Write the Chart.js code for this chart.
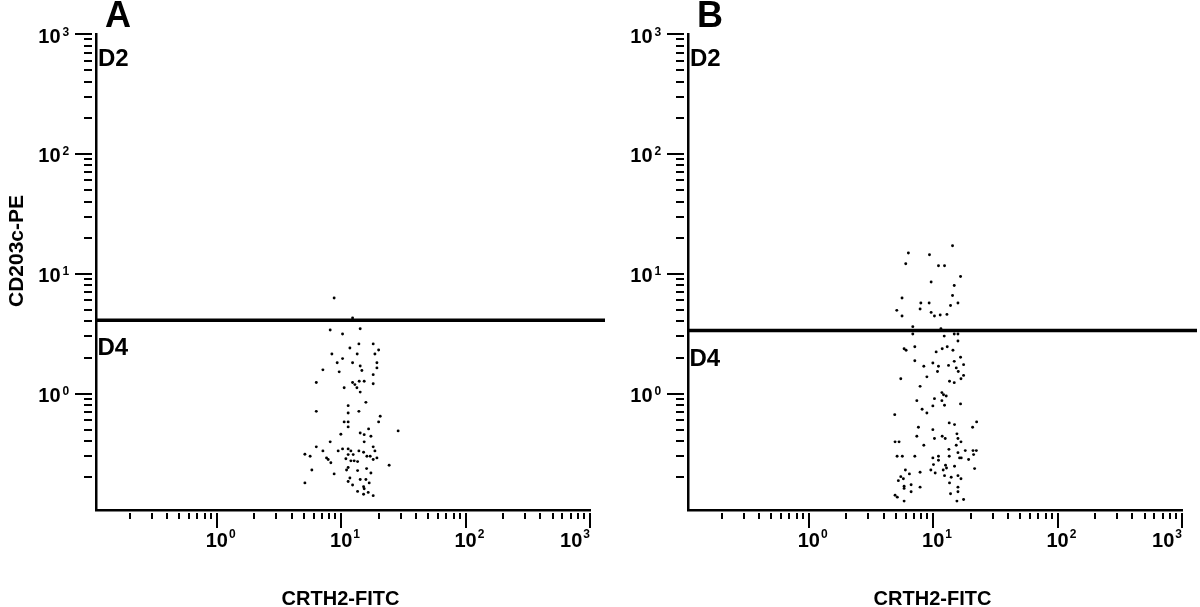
<!DOCTYPE html>
<html><head><meta charset="utf-8">
<script src="https://cdn.jsdelivr.net/npm/chart.js@4"></script>
<style>
html,body{margin:0;padding:0;background:#fff;}
#wrap{position:relative;width:1200px;height:607px;overflow:hidden;background:#fff;}
.panel{position:absolute;top:0;height:607px;}
canvas{display:block;}
</style></head><body>
<div id="wrap">
<div class="panel" style="left:0;width:610px"><canvas id="cA" width="610" height="607"></canvas></div>
<div class="panel" style="left:600px;width:600px"><canvas id="cB" width="600" height="607"></canvas></div>
</div>
<script>
// ---- text / axis data ----
const panelLetters = ['A', 'B'];
const xAxisTitle = 'CRTH2-FITC';
const yAxisTitle = 'CD203c-PE';
const gateLabels = ['D2', 'D4'];
const majorTickValues = [1, 10, 100, 1000];
const majorTickBase = '10';
const majorTickExponents = ['0', '1', '2', '3'];
const minorMultiples = [2, 3, 4, 5, 6, 7, 8, 9];
const decadeBases = [0.1, 1, 10, 100];
const axisMin = 0.107;
const axisMax = 1000;
// gate (horizontal quadrant line) level in each panel, and its right end
const gateLevels = [4.1, 3.36];
const gateXEnd = 1320;

// ---- events: [CRTH2-FITC, CD203c-PE] ----
const panelA_points = [
 [8.78,6.27],[12.35,4.27],[8.16,3.40],[14.22,3.48],[10.26,3.14],[13.88,2.60],[18.09,2.60],[11.75,2.40],[20.0,2.31],[8.42,2.14],
 [13.45,2.14],[18.67,2.14],[10.26,1.96],[9.29,1.81],[12.35,1.81],[19.38,1.81],[14.22,1.70],[7.13,1.58],[9.64,1.52],[14.67,1.56],
 [19.38,1.64],[18.09,1.44],[6.31,1.24],[12.35,1.24],[12.89,1.19],[13.96,1.27],[15.31,1.27],[18.09,1.21],[10.57,1.12],[13.38,1.12],
 [14.22,1.03],[15.80,0.846],[11.38,0.794],[6.31,0.712],[11.38,0.690],[13.88,0.712],[20.6,0.647],[10.57,0.581],[11.38,0.581],[20.0,0.581],
 [11.38,0.528],[16.61,0.508],[28.7,0.489],[9.94,0.458],[14.22,0.470],[15.31,0.455],[17.34,0.441],[8.16,0.396],[15.31,0.396],[6.31,0.360],
 [18.09,0.360],[7.13,0.333],[9.46,0.333],[10.26,0.346],[11.38,0.346],[11.97,0.333],[13.88,0.333],[15.14,0.324],[18.67,0.333],[5.11,0.312],
 [5.63,0.300],[11.38,0.310],[12.49,0.310],[16.10,0.300],[17.11,0.300],[7.63,0.291],[7.86,0.282],[10.91,0.286],[11.97,0.275],[12.72,0.275],
 [13.55,0.271],[18.09,0.282],[19.38,0.291],[8.26,0.265],[24.3,0.253],[11.38,0.242],[16.01,0.237],[11.05,0.231],[13.55,0.228],[5.81,0.231],
 [8.78,0.214],[17.34,0.218],[11.75,0.198],[14.22,0.192],[15.80,0.192],[11.38,0.185],[5.11,0.180],[16.80,0.180],[12.35,0.173],[15.14,0.167],
 [15.31,0.161],[13.55,0.153],[16.49,0.150],[15.14,0.145],[18.09,0.141]
];
const panelB_points = [
 [14.31,17.12],[6.32,14.88],[9.34,14.40],[6.02,12.12],[11.03,11.66],[12.34,11.66],[16.60,9.50],[9.63,8.53],[14.77,7.99],[14.31,6.59],
 [5.62,6.27],[7.96,5.70],[9.28,5.70],[15.82,5.70],[13.79,5.44],[5.10,4.95],[7.85,5.08],[9.63,4.76],[11.39,4.53],[10.24,4.44],
 [12.90,4.58],[5.62,4.44],[6.86,3.62],[11.54,3.48],[6.86,3.14],[14.77,3.14],[15.82,3.14],[12.27,3.02],[15.82,2.75],[5.84,2.37],
 [6.06,2.30],[7.12,2.46],[11.82,2.37],[12.97,2.46],[14.42,2.30],[10.57,2.23],[7.12,1.88],[9.94,1.80],[14.77,1.86],[16.60,2.01],
 [8.41,1.69],[11.03,1.69],[13.29,1.72],[15.33,1.64],[17.56,1.745],[10.83,1.53],[15.91,1.53],[8.90,1.38],[17.56,1.42],[5.49,1.33],
 [16.73,1.33],[13.53,1.27],[14.77,1.235],[7.85,1.15],[11.75,1.02],[12.11,0.98],[12.73,0.957],[10.24,0.908],[11.75,0.874],[7.39,0.874],
 [16.60,0.821],[12.34,0.799],[9.94,0.790],[8.15,0.740],[8.90,0.690],[4.91,0.668],[13.46,0.570],[14.85,0.552],[22.35,0.581],[7.61,0.524],
 [9.94,0.501],[20.75,0.524],[15.52,0.462],[7.39,0.441],[11.82,0.441],[10.24,0.422],[12.50,0.422],[15.82,0.422],[16.73,0.396],[4.94,0.396],
 [5.32,0.396],[8.41,0.371],[15.33,0.371],[13.38,0.343],[18.11,0.335],[20.9,0.335],[22.23,0.335],[15.82,0.322],[5.13,0.300],[5.65,0.300],
 [7.12,0.300],[9.94,0.291],[11.03,0.300],[11.03,0.278],[13.46,0.300],[16.30,0.291],[16.82,0.291],[19.27,0.282],[21.13,0.310],[10.06,0.256],
 [12.57,0.253],[14.85,0.248],[5.98,0.231],[9.58,0.231],[12.04,0.231],[12.80,0.240],[10.38,0.218],[21.53,0.237],[7.85,0.221],[6.44,0.214],
 [12.34,0.207],[13.96,0.201],[15.82,0.207],[5.49,0.203],[5.76,0.195],[5.25,0.188],[16.73,0.195],[13.53,0.180],[6.65,0.174],[5.84,0.169],
 [7.85,0.166],[15.82,0.166],[5.84,0.162],[15.82,0.152],[6.65,0.152],[13.79,0.146],[4.94,0.142],[5.15,0.137],[5.84,0.127],[15.52,0.127],
 [17.56,0.131]
];

// ---- tick positions (log decades) ----
const minorTickValues = [];
decadeBases.forEach(b => minorMultiples.forEach(m => {
  const v = +(b * m).toPrecision(3);
  if (v >= axisMin && v <= axisMax) minorTickValues.push(v);
}));

const FONT = '"Liberation Sans", Arial, Helvetica, sans-serif';

const decor = {
  id: 'decor',
  afterDraw(chart, args, o) {
    const ctx = chart.ctx, xs = chart.scales.x, ys = chart.scales.y, ca = chart.chartArea;
    ctx.save();
    ctx.strokeStyle = '#000'; ctx.fillStyle = '#000'; ctx.lineWidth = 2;
    const tickList = minorTickValues.map(v => [v, false]).concat(majorTickValues.map(v => [v, true]));
    tickList.forEach(([v, major]) => {
      const py = Math.round(ys.getPixelForValue(v));
      ctx.beginPath(); ctx.moveTo(ca.left - (major ? 21 : 12), py); ctx.lineTo(ca.left - 4, py); ctx.stroke();
      const px = Math.round(xs.getPixelForValue(v));
      ctx.beginPath(); ctx.moveTo(px, ca.bottom + 3); ctx.lineTo(px, ca.bottom + (major ? 18 : 9)); ctx.stroke();
    });
    // tick labels 10^n
    const bigF = 'bold 20px ' + FONT, supF = 'bold 12px ' + FONT;
    majorTickValues.forEach((v, i) => {
      const py = ys.getPixelForValue(v);
      ctx.font = bigF; ctx.textAlign = 'right'; ctx.textBaseline = 'alphabetic';
      ctx.fillText(majorTickBase, ca.left - 35.5, py + 8.5);
      ctx.font = supF; ctx.textAlign = 'left';
      ctx.fillText(majorTickExponents[i], ca.left - 33.5, py + 1.5);
      const px = xs.getPixelForValue(v);
      ctx.font = bigF;
      const bw = ctx.measureText(majorTickBase).width;
      ctx.font = supF;
      const ew = ctx.measureText(majorTickExponents[i]).width;
      const last = i === majorTickValues.length - 1;
      const x0 = last ? px - (bw + 1 + ew) : px - bw / 2;
      ctx.font = bigF; ctx.textAlign = 'left';
      ctx.fillText(majorTickBase, x0, ca.bottom + 36.5);
      ctx.font = supF;
      ctx.fillText(majorTickExponents[i], x0 + bw + 1, ca.bottom + 28);
    });
    // axis titles
    ctx.font = 'bold 20px ' + FONT; ctx.textAlign = 'center';
    ctx.fillText(xAxisTitle, (ca.left + ca.right) / 2 - 2.5, 605);
    if (o.yTitle) {
      ctx.font = 'bold 21px ' + FONT;
      ctx.save(); ctx.translate(22.5, 251); ctx.rotate(-Math.PI / 2);
      ctx.fillText(yAxisTitle, 0, 0); ctx.restore();
    }
    // panel letter
    ctx.font = 'bold 36px ' + FONT; ctx.textAlign = 'left';
    ctx.fillText(o.letter, ca.left + 9, 27);
    // gate labels
    ctx.font = 'bold 24px ' + FONT;
    ctx.fillText(gateLabels[0], ca.left + 2, 65.5);
    const gy = ys.getPixelForValue(o.gate);
    ctx.fillText(gateLabels[1], ca.left + 1.5, gy + 35);
    ctx.restore();
  }
};

function makePanel(id, points, gate, pad, letter, yTitle) {
  const axis = (extra) => Object.assign({
    type: 'logarithmic', min: axisMin, max: axisMax,
    grid: { display: true, drawOnChartArea: false, drawTicks: false, color: 'rgba(0,0,0,0)' },
    ticks: { display: false },
    border: { display: true, color: '#000', width: 2.5 }
  }, extra);
  return new Chart(document.getElementById(id), {
    type: 'scatter',
    data: {
      datasets: [
        { data: points.map(p => ({ x: p[0], y: p[1] })), pointRadius: 1.45, pointBorderWidth: 0,
          pointBackgroundColor: '#000', backgroundColor: '#000', pointStyle: 'circle' },
        { data: [{ x: axisMin, y: gate }, { x: gateXEnd, y: gate }], showLine: true, borderColor: '#000',
          borderWidth: 3.5, pointRadius: 0, clip: false, fill: false }
      ]
    },
    options: {
      responsive: false, animation: false, devicePixelRatio: 1,
      events: [],
      layout: { padding: pad },
      plugins: { legend: { display: false }, tooltip: { enabled: false },
                 decor: { letter: letter, gate: gate, yTitle: yTitle } },
      scales: {
        x: axis({ afterFit(s) { s.height = 0; } }),
        y: axis({ afterFit(s) { s.width = 0; } })
      }
    },
    plugins: [decor]
  });
}

makePanel('cA', panelA_points, gateLevels[0], { left: 96, right: 20, top: 34, bottom: 97 }, panelLetters[0], true);
makePanel('cB', panelB_points, gateLevels[1], { left: 88, right: 18, top: 34, bottom: 97 }, panelLetters[1], false);
</script>
</body></html>
